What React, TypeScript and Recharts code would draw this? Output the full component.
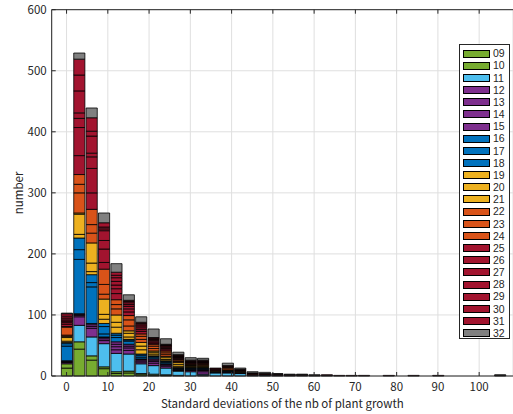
import React from 'react';
import { BarChart, Bar, XAxis, YAxis, CartesianGrid, Label } from 'recharts';

// bin centres of the histogram (bin width 3)
const binCenters = [0, 3, 6, 9, 12, 15, 18, 21, 24, 27, 30, 33, 36, 39, 42, 45, 48, 51, 54, 57, 60, 63, 66, 69, 72, 75, 78, 81, 84, 87, 90, 93, 96, 99, 102, 105];

const seriesNames = ['09', '10', '11', '12', '13', '14', '15', '16', '17', '18', '19', '20', '21', '22', '23', '24', '25', '26', '27', '28', '29', '30', '31', '32'];

// counts per bin, one array per series
const s09 = [13, 44, 26, 12, 4, 5, 2, 1, 1, 0, 0, 0, 0, 0, 0, 0, 0, 0, 0, 0, 0, 0, 0, 0, 0, 0, 0, 0, 0, 0, 0, 0, 0, 0, 0, 0];
const s10 = [7, 12, 7, 3, 3, 3, 2, 2, 1, 1, 0, 1, 0, 0, 0, 0, 0, 0, 0, 0, 0, 0, 0, 0, 0, 0, 0, 0, 0, 0, 0, 0, 0, 0, 0, 0];
const s11 = [0, 27, 31, 38, 30, 28, 16, 14, 11, 7, 7, 2, 5, 5, 4, 1, 1, 0, 0, 1, 0, 0, 0, 0, 0, 0, 0, 0, 0, 0, 0, 0, 0, 0, 0, 0];
const s12 = [2, 14, 14, 5, 6, 6, 3, 4, 3, 1, 2, 4, 1, 1, 0, 1, 0, 1, 0, 0, 0, 0, 0, 0, 0, 0, 0, 0, 0, 0, 0, 0, 0, 0, 0, 0];
const s13 = [1, 2, 3, 3, 5, 4, 2, 3, 2, 1, 1, 2, 0, 0, 1, 0, 0, 0, 1, 0, 0, 0, 0, 0, 0, 0, 0, 0, 0, 0, 0, 0, 0, 0, 0, 0];
const s14 = [1, 2, 3, 2, 4, 3, 2, 2, 1, 1, 1, 1, 0, 1, 0, 0, 0, 0, 0, 0, 0, 0, 0, 0, 0, 0, 0, 0, 0, 0, 0, 0, 0, 0, 0, 0];
const s15 = [1, 1, 2, 1, 4, 3, 1, 2, 1, 0, 0, 1, 0, 0, 0, 0, 0, 0, 0, 0, 0, 0, 0, 0, 0, 0, 0, 0, 0, 0, 0, 0, 0, 0, 0, 0];
const s16 = [24, 89, 60, 5, 7, 5, 3, 2, 2, 1, 1, 1, 1, 1, 0, 0, 1, 0, 0, 0, 0, 1, 0, 0, 0, 0, 0, 0, 0, 0, 0, 0, 0, 0, 0, 0];
const s17 = [4, 16, 7, 12, 4, 2, 3, 2, 2, 1, 1, 1, 0, 0, 1, 0, 0, 0, 0, 0, 0, 0, 0, 0, 0, 0, 0, 0, 0, 0, 0, 0, 0, 0, 0, 0];
const s18 = [2, 19, 13, 5, 3, 1, 2, 1, 1, 1, 1, 1, 0, 1, 0, 0, 0, 0, 0, 0, 0, 0, 0, 0, 0, 0, 0, 0, 0, 0, 0, 0, 0, 0, 0, 0];
const s19 = [2, 6, 5, 7, 10, 4, 7, 3, 2, 2, 1, 1, 1, 0, 1, 0, 0, 0, 0, 0, 0, 0, 0, 0, 0, 0, 0, 0, 0, 0, 0, 0, 0, 0, 0, 0];
const s20 = [6, 33, 14, 8, 8, 6, 6, 3, 3, 3, 1, 1, 0, 1, 0, 1, 0, 0, 0, 0, 0, 0, 0, 0, 0, 0, 0, 0, 0, 0, 0, 0, 0, 0, 0, 0];
const s21 = [2, 2, 33, 25, 12, 4, 6, 2, 2, 3, 1, 1, 0, 0, 0, 0, 0, 0, 0, 0, 0, 0, 0, 0, 0, 0, 0, 0, 0, 0, 0, 0, 0, 0, 0, 0];
const s22 = [2, 33, 16, 8, 10, 8, 5, 4, 3, 2, 1, 2, 1, 2, 0, 0, 1, 0, 0, 0, 0, 0, 0, 0, 0, 0, 0, 0, 0, 0, 0, 0, 0, 0, 0, 0];
const s23 = [13, 14, 14, 16, 7, 10, 5, 4, 3, 1, 1, 1, 0, 2, 1, 0, 0, 0, 0, 0, 0, 0, 0, 0, 0, 0, 0, 0, 0, 0, 0, 0, 0, 0, 0, 0];
const s24 = [1, 16, 25, 25, 8, 7, 4, 3, 3, 2, 1, 1, 0, 1, 0, 0, 0, 0, 0, 0, 0, 0, 0, 0, 0, 0, 0, 0, 0, 0, 0, 0, 0, 0, 0, 0];
const s25 = [4, 31, 27, 11, 10, 6, 4, 2, 2, 2, 1, 1, 2, 0, 1, 1, 0, 1, 0, 0, 1, 0, 0, 1, 0, 0, 0, 0, 0, 0, 0, 0, 0, 0, 0, 0];
const s26 = [3, 46, 40, 22, 8, 5, 3, 2, 2, 1, 1, 1, 0, 1, 0, 0, 1, 0, 1, 0, 0, 0, 0, 0, 0, 0, 1, 0, 0, 0, 0, 0, 0, 0, 0, 0];
const s27 = [2, 15, 19, 14, 6, 4, 3, 2, 2, 1, 1, 1, 0, 0, 1, 0, 0, 0, 0, 1, 0, 0, 0, 0, 0, 0, 0, 0, 0, 0, 1, 0, 0, 0, 0, 0];
const s28 = [2, 9, 6, 16, 6, 3, 3, 2, 2, 1, 1, 1, 1, 0, 0, 1, 0, 0, 0, 0, 0, 0, 1, 0, 0, 0, 0, 0, 0, 0, 0, 0, 0, 0, 0, 0];
const s29 = [3, 36, 28, 3, 6, 3, 2, 1, 1, 1, 1, 0, 0, 1, 0, 0, 0, 1, 0, 0, 0, 0, 0, 0, 0, 0, 0, 0, 1, 0, 0, 0, 0, 0, 0, 0];
const s30 = [3, 26, 8, 3, 4, 2, 2, 1, 1, 1, 0, 1, 0, 0, 1, 0, 0, 0, 0, 0, 0, 1, 0, 0, 0, 0, 0, 0, 0, 0, 0, 0, 0, 0, 0, 1];
const s31 = [4, 26, 22, 7, 5, 2, 2, 1, 1, 1, 1, 0, 1, 0, 0, 0, 0, 0, 0, 0, 0, 0, 0, 0, 1, 0, 0, 0, 0, 0, 0, 0, 0, 0, 0, 0];
const s32 = [1, 10, 16, 16, 14, 9, 9, 14, 9, 4, 4, 3, 0, 4, 2, 2, 2, 1, 1, 1, 1, 0, 0, 0, 0, 0, 0, 0, 0, 0, 0, 0, 0, 0, 0, 1];

const seriesValues = [s09, s10, s11, s12, s13, s14, s15, s16, s17, s18, s19, s20, s21, s22, s23, s24, s25, s26, s27, s28, s29, s30, s31, s32];

const xTicks = [0, 10, 20, 30, 40, 50, 60, 70, 80, 90, 100];
const yTicks = [0, 100, 200, 300, 400, 500, 600];

const colorOf = (name: string) => {
  const n = Number(name);
  if (n <= 10) return '#77ac30';
  if (n === 11) return '#4dbeee';
  if (n <= 15) return '#7e2f8e';
  if (n <= 18) return '#0072bd';
  if (n <= 21) return '#edb120';
  if (n <= 24) return '#d95319';
  if (n <= 31) return '#a2142f';
  return '#808080';
};

const data = binCenters.map((x, i) => {
  const row: Record<string, number> = { x };
  seriesNames.forEach((name, j) => {
    row[name] = seriesValues[j][i];
  });
  return row;
});

const W = 513;
const H = 414;
const LEFT = 51.7;
const TOP = 9.7;
const BOTTOM = 38;
const X_DOMAIN: [number, number] = [-3.6, 108.2];
const BAR_W = ((W - LEFT) / (X_DOMAIN[1] - X_DOMAIN[0])) * 3;
const FONT = '"Noto Sans CJK JP", "Noto Sans", sans-serif';
const AXIS = '#262626';

const Legend = () => (
  <div
    style={{
      position: 'absolute',
      left: 459.3,
      top: 44,
      width: 51,
      height: 295,
      border: `1px solid ${AXIS}`,
      background: '#fff',
      fontFamily: '"Liberation Sans", Arial, sans-serif',
      fontSize: 10.5,
      lineHeight: 1,
      color: AXIS,
      paddingTop: 2.5,
      boxSizing: 'border-box',
    }}
  >
    {seriesNames.map((name) => (
      <div key={name} style={{ display: 'flex', alignItems: 'center', height: 12.17 }}>
        <div
          style={{
            marginLeft: 2.5,
            width: 27.7,
            height: 8,
            background: colorOf(name),
            border: '1px solid #000',
            boxSizing: 'border-box',
          }}
        />
        <span style={{ marginLeft: 2.5 }}>{name}</span>
      </div>
    ))}
  </div>
);

export default function App() {
  return (
    <div style={{ position: 'absolute', left: 0, top: 0, width: W, height: H, background: '#fff' }}>
      <BarChart
        width={W}
        height={H}
        data={data}
        margin={{ top: 0, right: 0, bottom: 0, left: 0 }}
        barGap={0}
        style={{ fontFamily: FONT }}
      >
        <CartesianGrid stroke="#dfdfdf" strokeWidth={1} />
        <XAxis
          xAxisId="top"
          orientation="top"
          dataKey="x"
          type="number"
          domain={X_DOMAIN}
          ticks={xTicks}
          allowDataOverflow
          height={TOP}
          tickSize={-4}
          tick={() => <g />}
          stroke={AXIS}
        />
        <XAxis
          dataKey="x"
          type="number"
          domain={X_DOMAIN}
          ticks={xTicks}
          allowDataOverflow
          height={BOTTOM}
          tickSize={-4}
          tickMargin={10.5}
          stroke={AXIS}
          tick={{ fill: AXIS, fontSize: 11.5 }}
        >
          <Label
            content={({ viewBox }: any) => (
              <text
                x={viewBox.x + viewBox.width / 2}
                y={H - 6}
                textAnchor="middle"
                fill={AXIS}
                fontSize={11.5}
                fontFamily={FONT}
              >
                Standard deviations of the nb of plant growth
              </text>
            )}
          />
        </XAxis>
        <YAxis
          type="number"
          domain={[0, 600]}
          ticks={yTicks}
          width={LEFT}
          tickSize={-4}
          tickMargin={9}
          stroke={AXIS}
          tick={{ fill: AXIS, fontSize: 11.5 }}
        >
          <Label
            content={({ viewBox }: any) => {
              const cx = 18;
              const cy = viewBox.y + viewBox.height / 2;
              return (
                <text
                  x={cx}
                  y={cy}
                  transform={`rotate(-90, ${cx}, ${cy})`}
                  textAnchor="middle"
                  dominantBaseline="central"
                  fill={AXIS}
                  fontSize={11.5}
                  fontFamily={FONT}
                >
                  number
                </text>
              );
            }}
          />
        </YAxis>
        {seriesNames.map((name) => (
          <Bar
            key={name}
            dataKey={name}
            stackId="h"
            fill={colorOf(name)}
            stroke="#000"
            strokeWidth={0.8}
            barSize={BAR_W}
            isAnimationActive={false}
          />
        ))}
      </BarChart>
      <Legend />
    </div>
  );
}
